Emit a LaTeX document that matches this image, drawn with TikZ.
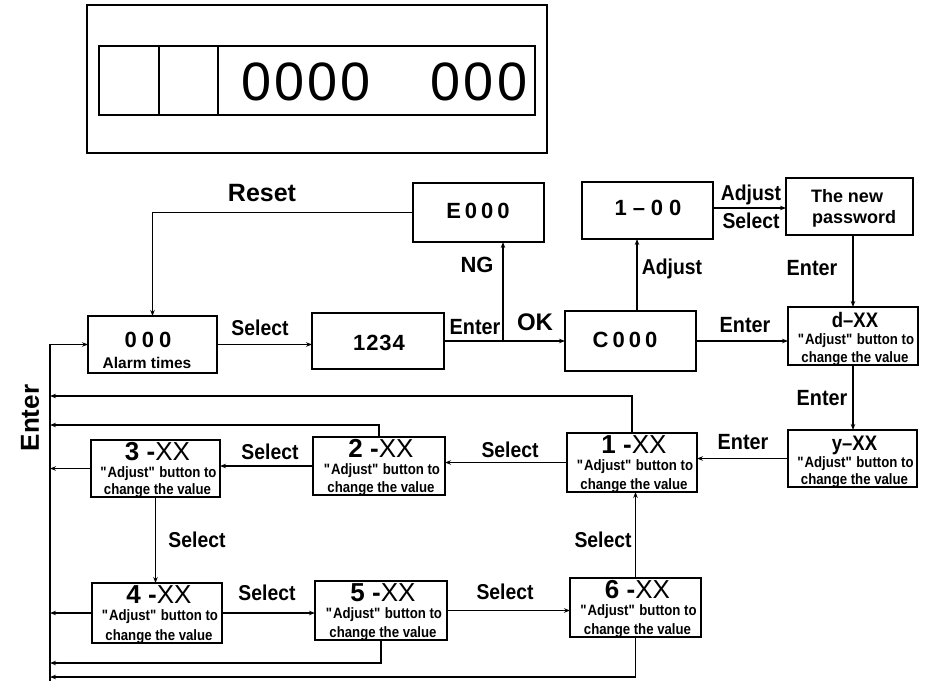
\documentclass[tikz,border=0pt]{standalone}
\usepackage{fontspec}
\setmainfont{Liberation Sans}
\newfontfamily\condA{Liberation Sans}[FakeStretch=0.9]
\newfontfamily\condB{Liberation Sans}[FakeStretch=0.88]
\usetikzlibrary{arrows.meta,calc}
\tikzset{
  box/.style={draw, line width=1.4pt, rectangle, inner sep=0pt, outer sep=0pt},
  frame/.style={draw, line width=1.3pt, rectangle, inner sep=0pt, outer sep=0pt},
  wire/.style={line width=1.1pt},
  conn/.style={wire, -{Stealth[length=6pt,width=4.5pt]}},
  ttl/.style={font=\fontsize{26}{27}\selectfont, inner sep=0pt},
  ttlb/.style={font=\condB\bfseries\fontsize{21}{22}\selectfont, inner sep=0pt},
  sub/.style={font=\condB\bfseries\fontsize{15}{16}\selectfont, inner sep=0pt},
  big/.style={font=\bfseries\fontsize{22}{24}\selectfont, inner sep=0pt},
  sel/.style={font=\condA\bfseries\fontsize{21.5}{22}\selectfont, inner sep=0pt},
  ent/.style={font=\condA\bfseries\fontsize{22}{23}\selectfont, inner sep=0pt},
  mid/.style={font=\bfseries\fontsize{18}{19}\selectfont, inner sep=0pt},
  digit/.style={font=\fontsize{54}{56}\selectfont, inner sep=0pt},
}
\newcommand\xxbox[7]{%
  \node[box, minimum width=#4pt, minimum height=#5pt, anchor=north] (#1) at (#2,#3) {};
  \node[#7, anchor=base] (#1t) at ($(#1.north)+(2,20.5)$) {#6};
  \node[sub, anchor=base] (#1a) at ($(#1.north)+(3,37.5)$) {\textquotedbl Adjust\textquotedbl\ button to};
  \node[sub, anchor=base] (#1b) at ($(#1.south)+(2,-3)$) {change the value};
}
\begin{document}
\begin{tikzpicture}[x=1pt, y=-1pt]
\fill[white] (0,0) rectangle (933,682);
\useasboundingbox (0,0) rectangle (933,682);

% display
\node[frame, minimum width=460pt, minimum height=148pt, anchor=north west] (disp) at (87,5) {};
\node[frame, minimum width=436pt, minimum height=69pt, anchor=north west] (lcd) at (99,46) {};
\coordinate (dv1) at (159,46);
\coordinate (dv2) at (218,46);
\draw[wire] (dv1) -- (dv1 |- lcd.south);
\draw[wire] (dv2) -- (dv2 |- lcd.south);
\node[digit, anchor=base] (dg1) at (306,101) {0\kern3pt0\kern3pt0\kern3pt0};
\node[digit, anchor=base] (dg2) at (479,101) {0\kern3pt0\kern3pt0};

% main boxes
\node[box, minimum width=131pt, minimum height=59pt] (e000) at (478.5,212.5) {};
\node[big, anchor=base] (e000t) at (478,218) {E\kern4pt0\kern4pt0\kern4pt0};
\node[box, minimum width=131pt, minimum height=57pt] (one00) at (647.5,210.5) {};
\node[big, anchor=base] (one00t) at (648,215) {1\kern6pt–\kern6pt0\kern6pt0};
\node[box, minimum width=127pt, minimum height=57pt] (pwd) at (849.5,206.5) {};
\node[mid, anchor=base] (pwd1) at (847,202) {The new};
\node[mid, anchor=base] (pwd2) at (854,223) {password};
\node[box, minimum width=129pt, minimum height=57pt] (alarm) at (152.5,344.5) {};
\node[big, anchor=base] (alarmt) at (148,347) {0\kern5pt0\kern5pt0};
\node[font=\bfseries\fontsize{15.5}{16}\selectfont, inner sep=0pt, anchor=base] (alarms) at (147,368) {Alarm times};
\node[box, minimum width=132pt, minimum height=56pt] (n1234) at (378,341) {};
\node[big, anchor=base] (n1234t) at (379,350) {1\kern1pt2\kern1pt3\kern1pt4};
\node[box, minimum width=131pt, minimum height=60pt] (c000) at (630.5,341) {};
\node[big, anchor=base] (c000t) at (625,347) {C\kern4pt0\kern4pt0\kern4pt0};

\xxbox{b3}{155.5}{440}{129}{57}{{\bfseries 3 -}XX}{ttl}
\xxbox{b2}{379}{437}{132}{58}{{\bfseries 2 -}XX}{ttl}
\xxbox{b1}{632}{433}{130}{59}{{\bfseries 1 -}XX}{ttl}
\xxbox{b4}{157}{583}{130}{60}{{\bfseries 4 -}XX}{ttl}
\xxbox{b5}{381}{581}{132}{59}{{\bfseries 5 -}XX}{ttl}
\xxbox{b6}{635.5}{578}{131}{59}{{\bfseries 6 -}XX}{ttl}
\xxbox{bd}{853}{307}{130}{58}{d–XX}{ttlb}
\xxbox{by}{852.5}{430}{129}{57}{y–XX}{ttlb}

% helper coordinates
\coordinate (bus) at (50,345);
\coordinate (busbot) at (50,681);
\coordinate (br) at (503,341);
\coordinate (adjx) at (637,0);
\coordinate (aj) at (0,208);
\coordinate (r1) at (0,396);
\coordinate (r2) at (0,425);
\coordinate (r5) at (0,663);
\coordinate (r6) at (0,677);

% connectors
\draw[conn] (e000.west) -| (alarm.north);
\draw[conn] (alarm.east) -- (alarm.east -| n1234.west);
\draw[conn] (n1234.east) -- (n1234.east -| c000.west);
\draw[conn] (br) -- (br |- e000.south);
\draw[conn] (c000.north -| adjx) -- (one00.south -| adjx);
\draw[conn] (one00.east |- aj) -- (pwd.west |- aj);
\draw[conn] (bd.north |- pwd.south) -- (bd.north);
\draw[conn] (c000.east) -- (c000.east -| bd.west);
\draw[conn] (bd.south) -- (bd.south |- by.north);
\draw[conn] (by.west) -- (by.west -| b1.east);
\draw[conn] (b1.west) -- (b1.west -| b2.east);
\draw[conn] (b2.west) -- (b2.west -| b3.east);
\draw[conn] (b3.west) -- (b3.west -| bus);
\draw[conn] (b3.south) -- (b3.south |- b4.north);
\draw[conn] (b4.west) -- (b4.west -| bus);
\draw[conn] (b4.east) -- (b4.east -| b5.west);
\draw[conn] (b5.east) -- (b5.east -| b6.west);
\draw[conn] (b6.north) -- (b6.north |- b1.south);
\draw[conn] (b5.south) |- (bus |- r5);
\draw[conn] (b6.south) |- (bus |- r6);
\draw[conn] (b2.north) |- (bus |- r2);
\draw[conn] (b1.north) |- (bus |- r1);
\draw[conn] (busbot) -- (bus |- alarm.west) -- (alarm.west);

% labels
\node[font=\bfseries\fontsize{25}{26}\selectfont, inner sep=0pt] (reset) at (262,193) {Reset};
\node[sel] (l1) at (260,328) {Select};
\node[ent] (l2) at (475,327) {Enter};
\node[font=\bfseries\fontsize{22}{24}\selectfont, inner sep=0pt] (ng) at (477,265) {NG};
\node[font=\bfseries\fontsize{24}{26}\selectfont, inner sep=0pt] (ok) at (535,322) {OK};
\node[sel] (l3) at (672,269) {Adjust};
\node[sel] (l4) at (751,195) {Adjust};
\node[sel] (l5) at (751,221) {Select};
\node[ent] (l6) at (812,268) {Enter};
\node[ent] (l7) at (745,325) {Enter};
\node[ent] (l8) at (822,398) {Enter};
\node[ent] (l9) at (743,442) {Enter};
\node[sel] (l10) at (510,450) {Select};
\node[sel] (l11) at (270,452) {Select};
\node[sel] (l12) at (197,540) {Select};
\node[sel] (l13) at (267,593) {Select};
\node[sel] (l14) at (505,592) {Select};
\node[sel] (l15) at (603,540) {Select};
\node[font=\bfseries\fontsize{26}{28}\selectfont, inner sep=0pt, rotate=90] (enterbig) at (30,418) {Enter};
\end{tikzpicture}
\end{document}
